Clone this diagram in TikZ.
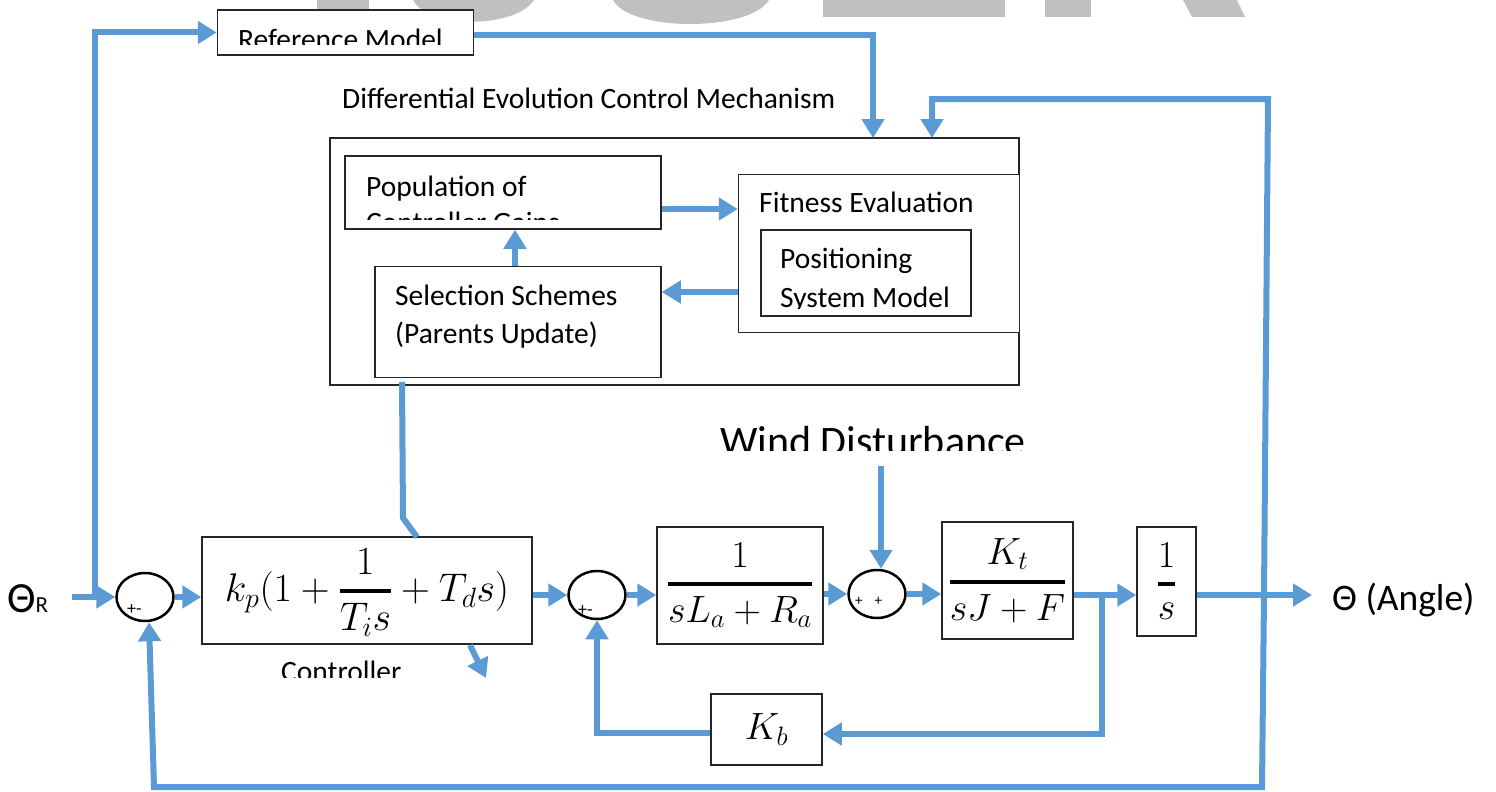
\RequirePackage{fix-cm}
\documentclass[tikz,border=0pt]{standalone}
\usepackage{amsmath}
\usepackage{fontspec}
\setmainfont{Carlito}
\usetikzlibrary{arrows.meta,shapes.geometric,calc}
\definecolor{wireblue}{HTML}{5B9BD5}
\definecolor{wmgray}{HTML}{C0C0C0}
\newcommand{\tfr}[2]{\genfrac{}{}{3.5pt}{0}{#1}{#2}}
\tikzset{
  wire/.style={draw=wireblue,line width=6pt},
  arr/.style={wire,-{Triangle[length=19pt,width=22pt]}},
  blk/.style={draw=black!85,line width=1.5pt,fill=white,inner sep=0pt,rectangle},
  sumj/.style={draw=black,line width=2.5pt,ellipse,fill=white,inner sep=0pt,minimum width=57pt,minimum height=48pt},
  txt/.style={inner sep=0pt,font=\fontsize{29.5}{35}\selectfont,anchor=base west},
  bigtxt/.style={inner sep=0pt,font=\fontsize{42}{50}\selectfont,anchor=base west},
  outtxt/.style={inner sep=0pt,font=\fontsize{37.5}{45}\selectfont,anchor=base west},
  mth/.style={inner sep=0pt,font=\fontsize{38}{45}\selectfont},
  bigmth/.style={inner sep=0pt,font=\fontsize{40}{48}\selectfont},
  sml/.style={inner sep=0pt,font=\fontsize{18}{20}\selectfont,anchor=base west},
  smlp/.style={inner sep=0pt,font=\fontsize{15}{18}\selectfont,anchor=base west},
}
\begin{document}
\begin{tikzpicture}[x=1pt,y=-1pt]
\useasboundingbox (0,0) rectangle (1496,792);
% watermark remnants
\fill[wmgray] (317,0) rectangle (369,20);
\fill[wmgray] (413,0) .. controls (428,29) and (515,29) .. (534,0) -- cycle;
\fill[wmgray] (613,0) .. controls (630,32) and (750,32) .. (769,0) -- cycle;
\fill[wmgray] (823,0) rectangle (1005,17);
\fill[wmgray] (1045,0) rectangle (1091,17);
\fill[wmgray] (1183,0) -- (1237,0) -- (1245,17) -- (1192,17) -- cycle;

% boxes
\node[blk,minimum width=256pt,minimum height=45pt] (refm) at (345.5,32.5) {};
\node[blk,minimum width=689pt,minimum height=247pt] (de) at (674.5,261.5) {};
\node[blk,minimum width=316pt,minimum height=73pt] (pop) at (503,192.5) {};
\node[blk,minimum width=281pt,minimum height=158pt] (fit) at (879,253.5) {};
\node[blk,minimum width=210pt,minimum height=86pt] (pos) at (866,273) {};
\node[blk,minimum width=286pt,minimum height=111pt] (sel) at (518,322) {};
\node[blk,minimum width=330pt,minimum height=107pt] (ctrl) at (367,590.5) {};
\node[blk,minimum width=166pt,minimum height=117pt] (b1) at (740,585.5) {};
\node[blk,minimum width=131pt,minimum height=117pt] (b2) at (1007.5,580.5) {};
\node[blk,minimum width=59pt,minimum height=109pt] (b3) at (1166.5,581.5) {};
\node[blk,minimum width=111pt,minimum height=71pt] (kb) at (766.5,729.5) {};
\node[sumj] (sum1) at (145,597) {};
\node[sumj] (sum2) at (597,595) {};
\node[sumj] (sum3) at (877,594) {};

% texts
\begin{scope}
\clip (218,10) rectangle (474,45);
\node[txt] (refmt) at (238,49) {Reference Model};
\end{scope}
\node[txt] (detitle) at (342,108) {Differential Evolution Control Mechanism};
\node[txt] (popt1) at (366,196) {Population of};
\begin{scope}
\clip (346,157) rectangle (660,219);
\node[txt] (popt2) at (366,232) {Controller Gains};
\end{scope}
\node[txt] (fitt) at (759,212) {Fitness Evaluation};
\node[txt] (post1) at (780,268) {Positioning};
\begin{scope}
\clip (762,231) rectangle (970,308.5);
\node[txt] (post2) at (780,307) {System Model};
\end{scope}
\node[txt] (selt1) at (395,305) {Selection Schemes};
\node[txt] (selt2) at (395,343) {(Parents Update)};
\begin{scope}
\clip (700,400) rectangle (1050,450.5);
\node[bigtxt] (windt) at (720,455) {Wind Disturbance};
\end{scope}
\begin{scope}
\clip (250,650) rectangle (420,677);
\node[txt] (ctrlt) at (281,681) {Controller};
\end{scope}
\node[outtxt] (thetaR) at (7,612) {{\fontsize{43}{50}\selectfont Θ}{\fontsize{23}{26}\selectfont R}};
\node[outtxt] (thetaO) at (1332,610) {Θ (Angle)};
\node[sml] (s1l) at (127,614) {+-};
\node[sml] (s2l) at (578,615) {+-};
\node[smlp] (s3l) at (855,605) {+\hspace{12pt}+};

% math
\node[bigmth] (ctrlm) at ([yshift=-2pt]ctrl.center) {$\displaystyle k_p(1+\tfr{1}{T_i s}+T_d s)$};
\node[mth] (b1m) at (b1.center) {$\displaystyle \tfr{1}{sL_a+R_a}$};
\node[mth] (b2m) at (b2.center) {$\displaystyle \tfr{K_t}{sJ+F}$};
\node[mth] (b3m) at (b3.center) {$\displaystyle \tfr{1}{s}$};
\node[mth] (kbm) at (kb.center) {$K_b$};

% coordinates
\coordinate (inR) at (72,597);
\coordinate (tapR) at (95,597);
\coordinate (deIn1) at (873,138);
\coordinate (deIn2) at (932,138);
\coordinate (fbTop) at (1268,99);
\coordinate (tapO) at (1264,595);
\coordinate (fbBot) at (1262,787);
\coordinate (fbL) at (154,787);
\coordinate (outEnd) at (1312,595);
\coordinate (tapB) at (1102,595);
\coordinate (windTop) at (881,466);
\coordinate (pf) at ([yshift=-16.5pt]pop.east);
\coordinate (fs) at ([yshift=-38.5pt]fit.west);
\coordinate (sp) at ([xshift=-3pt]sel.north);
\coordinate (kbr) at ([yshift=-4.5pt]kb.east);
\coordinate (kbl) at ([yshift=-3pt]kb.west);
\coordinate (selOut) at (402,382);
\coordinate (selBend) at (403,518);
\coordinate (ctrlIn) at (417,537);
\coordinate (ctrlOut) at (470,645);
\coordinate (ctrlTip) at (486,678);

% connectors
\draw[arr] (inR) -- (sum1.west);
\draw[arr] (tapR) |- (refm.west);
\draw[arr] ([yshift=-3pt]refm.east) -| (deIn1);
\draw[arr] (tapO) -- (fbTop) -| (deIn2);
\draw[arr] (tapO) -- (fbBot) -- (fbL) -- ([xshift=4pt]sum1.south);
\draw[arr] (sum1.east) -- (sum1.east -| ctrl.west);
\draw[arr] (sum2.west -| ctrl.east) -- (sum2.west);
\draw[arr] (sum2.east) -- (sum2.east -| b1.west);
\draw[arr] (sum3.west -| b1.east) -- (sum3.west);
\draw[arr] (sum3.east) -- (sum3.east -| b2.west);
\draw[wire] (tapB -| b2.east) -- (tapB);
\draw[arr] (tapB) -- (tapB -| b3.west);
\draw[arr] (outEnd -| b3.east) -- (outEnd);
\draw[arr] (tapB) |- (kbr);
\draw[arr] (kbl) -| (sum2.south);
\draw[arr] (windTop) -- (windTop |- sum3.north);
\draw[arr] (pf) -- (pf -| fit.west);
\draw[arr] (fs) -- (fs -| sel.east);
\draw[arr] (sp) -- (sp |- pop.south);
\draw[wire] (selOut) -- (selBend) -- (ctrlIn);
\draw[arr] (ctrlOut) -- (ctrlTip);
\end{tikzpicture}
\end{document}
